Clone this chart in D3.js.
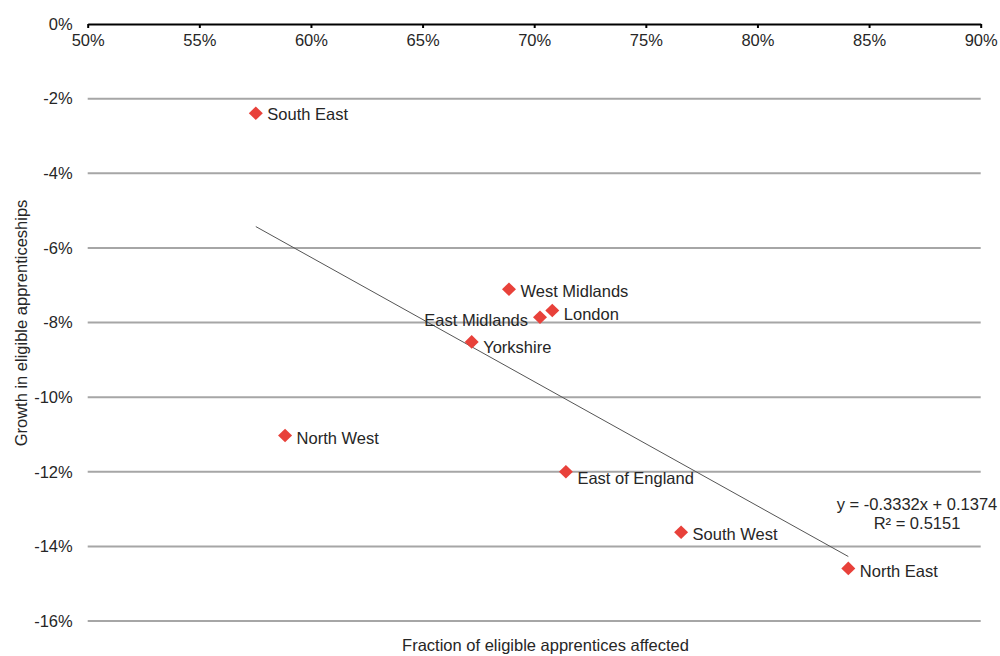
<!DOCTYPE html>
<html>
<head>
<meta charset="utf-8">
<script src="https://cdn.jsdelivr.net/npm/d3@7"></script>
<style>
  html, body { margin: 0; padding: 0; background: #fff; }
  svg { display: block; }
  text { font-family: "Liberation Sans", Arial, sans-serif; fill: #262626; }
</style>
</head>
<body>
<svg id="chart" width="1000" height="656"></svg>
<script>
// ---- Data ----
const regions = ["South East", "North West", "Yorkshire", "West Midlands", "East Midlands", "London", "East of England", "South West", "North East"];
const fractionAffected = [0.5753, 0.5884, 0.672, 0.6887, 0.7026, 0.7081, 0.7142, 0.7658, 0.8407];
const growth = [-0.0239, -0.1103, -0.0852, -0.0711, -0.0786, -0.0768, -0.1200, -0.1362, -0.1459];
const xTicks = [0.5, 0.55, 0.6, 0.65, 0.7, 0.75, 0.8, 0.85, 0.9];
const yTicks = [0, -0.02, -0.04, -0.06, -0.08, -0.10, -0.12, -0.14, -0.16];
const trendSlope = -0.3332;
const trendIntercept = 0.1374;
const trendR2 = 0.5151;
const xTitle = "Fraction of eligible apprentices affected";
const yTitle = "Growth in eligible apprenticeships";

// label placement (style, not data)
const labelPlace = {
  "South East": {side: "right", dy: 1},
  "North West": {side: "right", dy: 2},
  "Yorkshire": {side: "right", dy: 5},
  "West Midlands": {side: "right", dy: 2},
  "East Midlands": {side: "left", dy: 3},
  "London": {side: "right", dy: 3},
  "East of England": {side: "right", dy: 6},
  "South West": {side: "right", dy: 2},
  "North East": {side: "right", dy: 3}
};

const svg = d3.select("#chart");
const x = d3.scaleLinear().domain([0.5, 0.9]).range([87.7, 980.7]);
const y = d3.scaleLinear().domain([0, -0.16]).range([24, 621]);
const pct = d => Math.round(d * 100) + "%";
const FS = 16.5;

// gridlines
svg.append("g").selectAll("line")
  .data(yTicks.filter(d => d !== 0))
  .join("line")
  .attr("x1", x(0.5)).attr("x2", x(0.9))
  .attr("y1", d => y(d)).attr("y2", d => y(d))
  .attr("stroke", "#a6a6a6").attr("stroke-width", 2);

// y axis labels (no line)
const yAxis = d3.axisLeft(y).tickValues(yTicks).tickFormat(pct).tickSize(0).tickPadding(15);
const gy = svg.append("g").attr("transform", `translate(${x(0.5)},0)`).call(yAxis);
gy.select(".domain").remove();
gy.selectAll("text").style("font-size", FS + "px").attr("fill", "#262626")
  .style("font-family", "Liberation Sans, Arial, sans-serif");

// x axis at 0%
const xAxis = d3.axisBottom(x).tickValues(xTicks).tickFormat(pct).tickSizeInner(4).tickSizeOuter(0).tickPadding(6);
const gx = svg.append("g").attr("transform", `translate(0,${y(0)})`).call(xAxis);
gx.select(".domain").attr("stroke", "#000").attr("stroke-width", 2);
gx.selectAll(".tick line").attr("stroke", "#000").attr("stroke-width", 2);
gx.selectAll("text").style("font-size", FS + "px").attr("fill", "#262626")
  .style("font-family", "Liberation Sans, Arial, sans-serif");

// trendline
const xMin = d3.min(fractionAffected), xMax = d3.max(fractionAffected);
svg.append("line")
  .attr("x1", x(xMin)).attr("y1", y(trendSlope * xMin + trendIntercept))
  .attr("x2", x(xMax)).attr("y2", y(trendSlope * xMax + trendIntercept))
  .attr("stroke", "#555").attr("stroke-width", 1);

// trend equation
const eq = svg.append("text").attr("text-anchor", "middle")
  .attr("x", 917).style("font-size", FS + "px");
eq.append("tspan").attr("x", 917).attr("y", 510).text(`y = ${trendSlope}x + ${trendIntercept}`);
eq.append("tspan").attr("x", 917).attr("y", 529).text(`R² = ${trendR2}`);

// points
const pts = regions.map((r, i) => ({name: r, fx: fractionAffected[i], gy: growth[i]}));
svg.append("g").selectAll("path")
  .data(pts).join("path")
  .attr("transform", d => `translate(${x(d.fx)},${y(d.gy)})`)
  .attr("d", () => {
    const h = 6.8, w = 7;
    return `M0,${-h}L${w},0L0,${h}L${-w},0Z`;
  })
  .attr("fill", "#e8413a");

// labels
svg.append("g").selectAll("text")
  .data(pts).join("text")
  .attr("x", d => labelPlace[d.name].side === "left" ? x(d.fx) - 12 : x(d.fx) + 11.5)
  .attr("y", d => y(d.gy) + labelPlace[d.name].dy)
  .attr("text-anchor", d => labelPlace[d.name].side === "left" ? "end" : "start")
  .attr("dominant-baseline", "central")
  .style("font-size", FS + "px")
  .text(d => d.name);

// axis titles
svg.append("text").attr("x", 545.5).attr("y", 651).attr("text-anchor", "middle")
  .style("font-size", FS + "px").text(xTitle);
svg.append("text").attr("transform", "translate(27,323) rotate(-90)").attr("text-anchor", "middle")
  .style("font-size", FS + "px").text(yTitle);
</script>
</body>
</html>
